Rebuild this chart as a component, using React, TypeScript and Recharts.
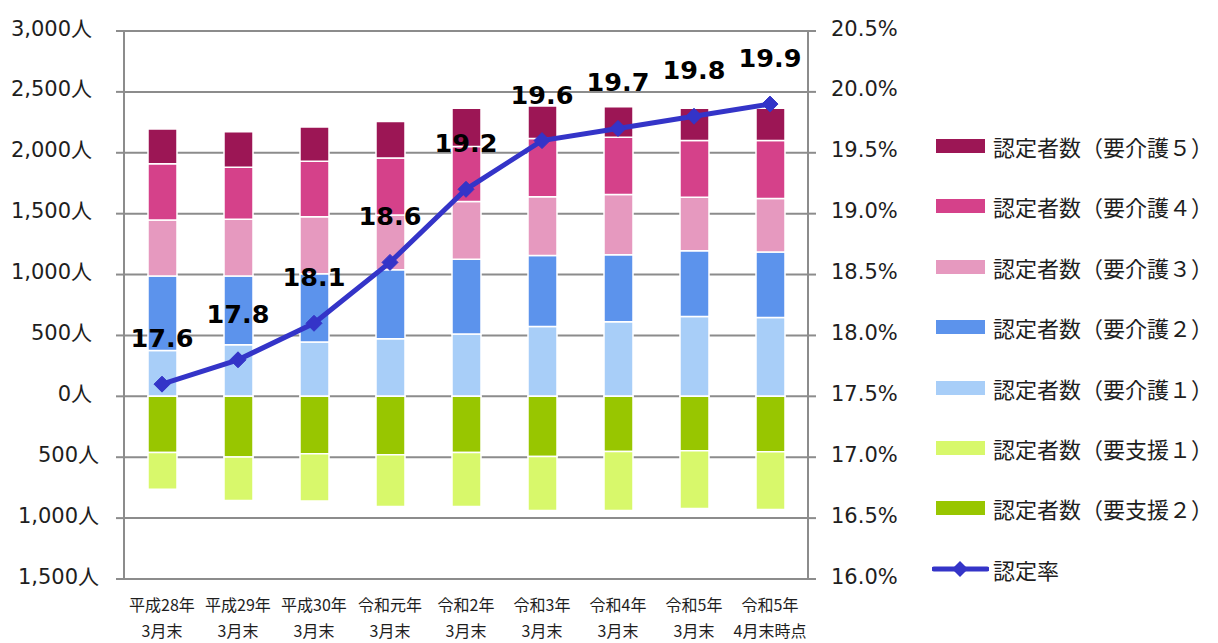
import React from 'react';
import {
  ComposedChart,
  Bar,
  Line,
  XAxis,
  YAxis,
  CartesianGrid,
  LabelList,
} from 'recharts';

// categories (two lines each: year / month)
const categories = [
  '平成28年|3月末',
  '平成29年|3月末',
  '平成30年|3月末',
  '令和元年|3月末',
  '令和2年|3月末',
  '令和3年|3月末',
  '令和4年|3月末',
  '令和5年|3月末',
  '令和5年|4月末時点',
];

// 認定者数 (people)
const kaigo1 = [376, 423, 447, 472, 511, 573, 612, 655, 647];
const kaigo2 = [613, 566, 559, 568, 615, 583, 550, 540, 539];
const kaigo3 = [460, 466, 468, 450, 473, 482, 495, 440, 438];
const kaigo4 = [460, 427, 457, 468, 452, 479, 471, 465, 476];
const kaigo5 = [287, 290, 281, 298, 315, 268, 249, 266, 266];
const shien2 = [461, 499, 472, 480, 461, 494, 453, 447, 456];
const shien1 = [301, 356, 388, 425, 444, 444, 485, 474, 473];

// 認定率 (%)
const rate = [17.6, 17.8, 18.1, 18.6, 19.2, 19.6, 19.7, 19.8, 19.9];

const leftTicks = [-1500, -1000, -500, 0, 500, 1000, 1500, 2000, 2500, 3000];
const rightTicks = [16, 16.5, 17, 17.5, 18, 18.5, 19, 19.5, 20, 20.5];

const COLORS = {
  kaigo5: '#9C1655',
  kaigo4: '#D5418A',
  kaigo3: '#E699BF',
  kaigo2: '#5C93EC',
  kaigo1: '#A8CEF8',
  shien1: '#D8F86B',
  shien2: '#98C600',
  rate: '#3434C8',
};

const LABELS = {
  kaigo5: '認定者数（要介護５）',
  kaigo4: '認定者数（要介護４）',
  kaigo3: '認定者数（要介護３）',
  kaigo2: '認定者数（要介護２）',
  kaigo1: '認定者数（要介護１）',
  shien1: '認定者数（要支援１）',
  shien2: '認定者数（要支援２）',
  rate: '認定率',
};

const legendOrder = ['kaigo5', 'kaigo4', 'kaigo3', 'kaigo2', 'kaigo1', 'shien1', 'shien2', 'rate'];

// support levels are drawn below zero
const data = categories.map((name, i) => ({
  name,
  kaigo1: kaigo1[i],
  kaigo2: kaigo2[i],
  kaigo3: kaigo3[i],
  kaigo4: kaigo4[i],
  kaigo5: kaigo5[i],
  shien2: -shien2[i],
  shien1: -shien1[i],
  rate: rate[i],
}));

const GRID = '#8C8C8C';
const TEXT = '#1E1E1E';
const AXIS_FONT = '"DejaVu Sans", "Noto Sans CJK JP", sans-serif';
const CJK_FONT = '"Noto Sans CJK JP", sans-serif';
const PLOT_BOTTOM = 579;

const LeftTick = (props: any) => {
  const { x, y, payload } = props;
  const v = payload.value as number;
  const shift = v < 0 ? 15 : 22;
  return (
    <text x={x - shift} y={y - 3} dy="0.36em" textAnchor="end" fill={TEXT} fontSize={21} fontFamily={AXIS_FONT}>
      {Math.abs(v).toLocaleString('en-US') + '人'}
    </text>
  );
};

const RightTick = (props: any) => {
  const { x, y, payload } = props;
  return (
    <text x={x + 13} y={y - 3} dy="0.36em" textAnchor="start" fill={TEXT} fontSize={21} fontFamily={AXIS_FONT}>
      {(payload.value as number).toFixed(1) + '%'}
    </text>
  );
};

const CategoryTick = (props: any) => {
  const { x, payload } = props;
  const [l1, l2] = String(payload.value).split('|');
  return (
    <g>
      <text x={x} y={PLOT_BOTTOM + 32} textAnchor="middle" fill={TEXT} fontSize={16} fontFamily={CJK_FONT}>
        {l1}
      </text>
      <text x={x} y={PLOT_BOTTOM + 58} textAnchor="middle" fill={TEXT} fontSize={16} fontFamily={CJK_FONT}>
        {l2}
      </text>
    </g>
  );
};

const Diamond = (props: any) => {
  const { cx, cy } = props;
  if (cx == null || cy == null) return null;
  const r = 8;
  return (
    <path
      d={`M${cx},${cy - r}L${cx + r},${cy}L${cx},${cy + r}L${cx - r},${cy}Z`}
      fill={COLORS.rate}
      stroke={COLORS.rate}
    />
  );
};

const RateLabel = (props: any) => {
  const { x, y, value } = props;
  return (
    <text x={x} y={y - 37} textAnchor="middle" fill="#000" fontSize={25.5} fontWeight="bold" fontFamily={AXIS_FONT}>
      {Number(value).toFixed(1)}
    </text>
  );
};

const LegendBox = () => (
  <div style={{ position: 'absolute', left: 0, top: 0, width: 1218, height: 643, pointerEvents: 'none', overflow: 'hidden' }}>
    {legendOrder.map((key, i) => {
      const cy = 146 + i * 60.4;
      const color = (COLORS as any)[key];
      return (
        <div key={key} style={{ position: 'absolute', left: 932, top: cy - 16, height: 32, display: 'flex', alignItems: 'center', whiteSpace: 'nowrap' }}>
          {key === 'rate' ? (
            <svg width={57} height={32} style={{ display: 'block' }}>
              <line x1={2} y1={16} x2={55} y2={16} stroke={color} strokeWidth={5} strokeLinecap="round" />
              <path d="M28,8L36,16L28,24L20,16Z" fill={color} />
            </svg>
          ) : (
            <svg width={57} height={32} style={{ display: 'block' }}>
              <rect x={4} y={9} width={49} height={14} fill={color} />
            </svg>
          )}
          <span style={{ fontFamily: CJK_FONT, fontSize: 22, color: TEXT, marginLeft: 4, lineHeight: '32px' }}>
            {(LABELS as any)[key]}
          </span>
        </div>
      );
    })}
  </div>
);

export default function App() {
  return (
    <div style={{ position: 'absolute', left: 0, top: 0, width: 1218, height: 643, background: '#fff' }}>
      <ComposedChart
        width={1218}
        height={643}
        data={data}
        stackOffset="sign"
        margin={{ top: 31, right: 310, bottom: 0, left: 0 }}
      >
        <CartesianGrid yAxisId="left" vertical={false} stroke={GRID} strokeWidth={2} />
        <XAxis
          dataKey="name"
          height={64}
          axisLine={{ stroke: GRID, strokeWidth: 2 }}
          tickLine={false}
          tick={<CategoryTick />}
          interval={0}
        />
        <YAxis
          yAxisId="left"
          width={124}
          domain={[-1500, 3000]}
          ticks={leftTicks}
          interval={0}
          axisLine={{ stroke: GRID, strokeWidth: 2 }}
          tickLine={{ stroke: GRID, strokeWidth: 2 }}
          tickSize={8}
          tick={<LeftTick />}
        />
        <YAxis
          yAxisId="right"
          orientation="right"
          width={100}
          domain={[16, 20.5]}
          ticks={rightTicks}
          interval={0}
          axisLine={{ stroke: GRID, strokeWidth: 2 }}
          tickLine={{ stroke: GRID, strokeWidth: 2 }}
          tickSize={8}
          tick={<RightTick />}
        />
        <Bar yAxisId="left" dataKey="kaigo1" stackId="a" barSize={29} fill={COLORS.kaigo1} stroke="#fff" strokeWidth={1.5} isAnimationActive={false} />
        <Bar yAxisId="left" dataKey="kaigo2" stackId="a" barSize={29} fill={COLORS.kaigo2} stroke="#fff" strokeWidth={1.5} isAnimationActive={false} />
        <Bar yAxisId="left" dataKey="kaigo3" stackId="a" barSize={29} fill={COLORS.kaigo3} stroke="#fff" strokeWidth={1.5} isAnimationActive={false} />
        <Bar yAxisId="left" dataKey="kaigo4" stackId="a" barSize={29} fill={COLORS.kaigo4} stroke="#fff" strokeWidth={1.5} isAnimationActive={false} />
        <Bar yAxisId="left" dataKey="kaigo5" stackId="a" barSize={29} fill={COLORS.kaigo5} stroke="#fff" strokeWidth={1.5} isAnimationActive={false} />
        <Bar yAxisId="left" dataKey="shien2" stackId="a" barSize={29} fill={COLORS.shien2} stroke="#fff" strokeWidth={1.5} isAnimationActive={false} />
        <Bar yAxisId="left" dataKey="shien1" stackId="a" barSize={29} fill={COLORS.shien1} stroke="#fff" strokeWidth={1.5} isAnimationActive={false} />
        <Line
          yAxisId="right"
          dataKey="rate"
          type="linear"
          stroke={COLORS.rate}
          strokeWidth={5}
          dot={<Diamond />}
          activeDot={false}
          isAnimationActive={false}
        >
          <LabelList dataKey="rate" content={<RateLabel />} />
        </Line>
      </ComposedChart>
      <LegendBox />
    </div>
  );
}
